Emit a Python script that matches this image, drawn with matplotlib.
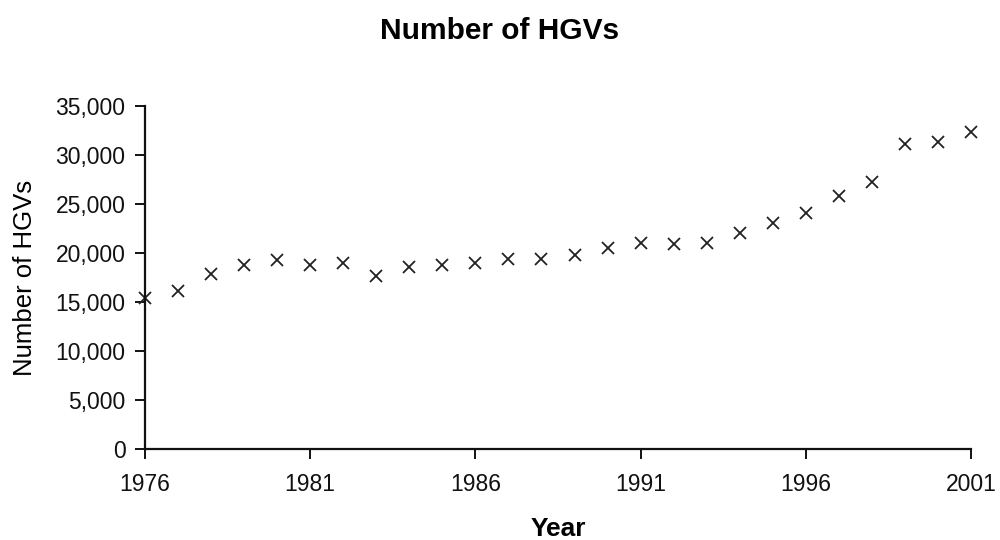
import matplotlib
matplotlib.use("Agg")
import matplotlib.pyplot as plt
from matplotlib.ticker import FuncFormatter

# Number of HGVs per year
years = list(range(1976, 2002))
hgvs = [15400, 16100, 17900, 18800, 19300, 18800, 18950, 17650, 18600, 18800,
        18950, 19350, 19350, 19800, 20550, 21050, 20900, 21050, 22000, 23100,
        24100, 25800, 27250, 31100, 31300, 32350]

x_ticks = [1976, 1981, 1986, 1991, 1996, 2001]
y_ticks = [0, 5000, 10000, 15000, 20000, 25000, 30000, 35000]

plt.rcParams['font.family'] = ['Liberation Sans', 'DejaVu Sans']

fig = plt.figure(figsize=(10, 5.4), dpi=100)
ax = fig.add_axes([0.145, 0.168, 0.826, 0.636])

ax.plot(years, hgvs, linestyle='none', marker='x', markersize=9,
        markeredgewidth=1.3, color='#222222', clip_on=False)

ax.set_xlim(1976, 2001)
ax.set_ylim(0, 35000)
ax.set_xticks(x_ticks)
ax.set_yticks(y_ticks)
ax.yaxis.set_major_formatter(FuncFormatter(lambda v, p: f"{int(v):,}"))

for side in ['top', 'right']:
    ax.spines[side].set_visible(False)
for side in ['left', 'bottom']:
    ax.spines[side].set_linewidth(1.6)
    ax.spines[side].set_color('#111111')

ax.tick_params(axis='both', direction='out', length=7, width=1.4,
               labelsize=16.5, colors='#111111')
ax.tick_params(axis='x', pad=10)
ax.tick_params(axis='y', pad=7)

ax.set_xlabel('Year', fontsize=19, fontweight='bold', labelpad=15)
ax.set_ylabel('Number of HGVs', fontsize=18.5, labelpad=13)
fig.suptitle('Number of HGVs', fontsize=21.5, fontweight='bold', y=0.968)

fig.savefig('out.png', dpi=100)
